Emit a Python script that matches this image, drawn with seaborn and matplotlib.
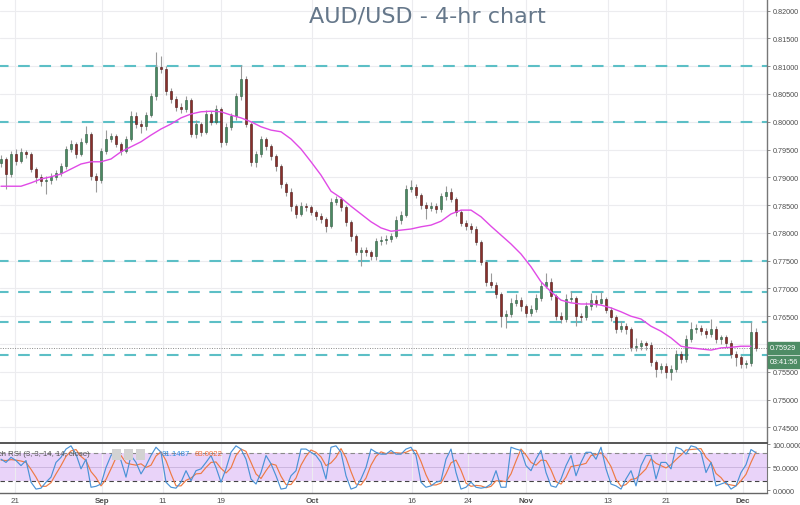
import numpy as np
import pandas as pd
import matplotlib
matplotlib.use('Agg')
import matplotlib.pyplot as plt
import matplotlib.transforms as mtransforms
from matplotlib.patches import Rectangle
import seaborn as sns

# --- data (one candle ~ half a trading day) ---
first_open = 0.7925
closes = [
    .7933, .7906, .7942, .7929, .7946, .7942, .7915, .7901, .7893, .7895,
    .7901, .7908, .7920, .7951, .7960, .7942, .7964, .7978, .7902, .7895,
    .7947, .7969, .7974, .7960, .7947, .7969, .8010, .7996, .7992, .8012,
    .8046, .8099, .8095, .8055, .8041, .8027, .8023, .8039, .7978, .7996,
    .7982, .8014, .8000, .8023, .7964, .7991, .8010, .8046, .8077, .7996,
    .7928, .7942, .7969, .7956, .7938, .7920, .7888, .7874, .7848, .7834,
    .7848, .7847, .7838, .7830, .7825, .7812, .7856, .7861, .7847, .7820,
    .7794, .7766, .7769, .7766, .7758, .7785, .7787, .7789, .7794, .7823,
    .7832, .7879, .7883, .7868, .7850, .7845, .7848, .7843, .7866, .7874,
    .7861, .7838, .7818, .7812, .7807, .7784, .7748, .7712, .7706, .7690,
    .7650, .7654, .7674, .7679, .7668, .7656, .7663, .7683, .7704, .7712,
    .7686, .7650, .7645, .7681, .7683, .7650, .7649, .7668, .7679, .7674,
    .7681, .7661, .7649, .7627, .7632, .7627, .7595, .7596, .7601, .7598,
    .7568, .7555, .7560, .7550, .7555, .7582, .7573, .7609, .7627, .7629,
    .7623, .7618, .7627, .7609, .7612, .7602, .7582, .7577, .7564, .7566,
    .7622, .7593]
highs = [
    .7940, .7937, .7948, .7951, .7952, .7950, .7945, .7919, .7906, .7903,
    .7908, .7914, .7926, .7957, .7968, .7964, .7970, .7992, .7981, .7908,
    .7952, .7985, .7980, .7978, .7964, .7975, .8020, .8018, .8003, .8018,
    .8052, .8126, .8118, .8100, .8060, .8046, .8034, .8046, .8042, .8003,
    .8000, .8022, .8019, .8030, .8027, .7998, .8016, .8052, .8102, .8082,
    .8000, .7948, .7975, .7972, .7960, .7942, .7924, .7892, .7880, .7852,
    .7855, .7853, .7851, .7842, .7835, .7828, .7862, .7867, .7865, .7851,
    .7824, .7798, .7775, .7774, .7770, .7790, .7795, .7796, .7800, .7830,
    .7840, .7886, .7895, .7888, .7872, .7856, .7855, .7853, .7872, .7885,
    .7880, .7865, .7842, .7824, .7818, .7812, .7788, .7752, .7728, .7712,
    .7694, .7662, .7682, .7690, .7684, .7672, .7670, .7690, .7712, .7728,
    .7718, .7690, .7657, .7690, .7695, .7687, .7656, .7675, .7692, .7688,
    .7694, .7685, .7666, .7653, .7641, .7637, .7630, .7610, .7608, .7606,
    .7603, .7572, .7566, .7565, .7562, .7590, .7588, .7616, .7640, .7636,
    .7634, .7628, .7645, .7632, .7616, .7617, .7607, .7588, .7581, .7572,
    .7640, .7628]
lows = [
    .7918, .7879, .7900, .7922, .7925, .7935, .7909, .7890, .7885, .7870,
    .7888, .7896, .7903, .7915, .7946, .7935, .7938, .7960, .7896, .7874,
    .7890, .7942, .7963, .7954, .7940, .7943, .7965, .7989, .7980, .7986,
    .8008, .8040, .8088, .8048, .8034, .8020, .8015, .8018, .7972, .7970,
    .7975, .7978, .7994, .7996, .7955, .7958, .7985, .8004, .8040, .7990,
    .7921, .7918, .7937, .7950, .7931, .7912, .7880, .7866, .7840, .7827,
    .7830, .7840, .7832, .7823, .7818, .7802, .7808, .7850, .7840, .7812,
    .7786, .7760, .7740, .7758, .7752, .7752, .7779, .7780, .7784, .7790,
    .7816, .7828, .7874, .7862, .7843, .7825, .7840, .7836, .7838, .7860,
    .7855, .7831, .7812, .7805, .7800, .7778, .7742, .7704, .7700, .7683,
    .7630, .7628, .7648, .7668, .7660, .7648, .7650, .7658, .7678, .7700,
    .7680, .7643, .7638, .7640, .7675, .7632, .7640, .7644, .7662, .7667,
    .7672, .7655, .7642, .7620, .7622, .7618, .7588, .7588, .7590, .7590,
    .7560, .7540, .7548, .7538, .7535, .7550, .7566, .7568, .7603, .7620,
    .7616, .7610, .7612, .7602, .7600, .7594, .7574, .7560, .7556, .7556,
    .7560, .7588]

# moving average, read every second candle
ma_vals = [
    .7884, .7884, .7884, .7890, .7897, .7901, .7906, .7915, .7924, .7928,
    .7928, .7933, .7946, .7955, .7964, .7976, .7987, .7996, .8007, .8014,
    .8018, .8019, .8018, .8012, .8007, .8000, .7991, .7985, .7982, .7969,
    .7951, .7928, .7904, .7875, .7863, .7848, .7834, .7820, .7809, .7803,
    .7805, .7807, .7811, .7814, .7821, .7834, .7841, .7841, .7829, .7812,
    .7796, .7780, .7762, .7739, .7712, .7694, .7679, .7674, .7672, .7672,
    .7670, .7665, .7658, .7650, .7645, .7632, .7623, .7611, .7596, .7593,
    .7591, .7589, .7593, .7594, .7596, .7596]

stoch_k = [
    67, 60, 71, 64, 53, 64, 17, 2, 4, 17, 28, 60, 71, 89, 96, 78,
    46, 67, 6, 8, 13, 49, 75, 86, 64, 28, 75, 60, 35, 53, 75, 93,
    82, 17, 6, 4, 17, 42, 20, 42, 46, 60, 75, 49, 17, 46, 82, 96,
    89, 67, 24, 13, 38, 75, 57, 31, 2, 4, 31, 42, 89, 89, 82, 75,
    60, 24, 93, 96, 82, 31, 2, 6, 24, 49, 89, 82, 78, 78, 86, 78,
    78, 89, 93, 75, 17, 6, 9, 17, 20, 67, 89, 38, 2, 6, 17, 6,
    4, 6, 13, 42, 6, 6, 93, 89, 86, 53, 42, 67, 86, 38, 9, 6,
    24, 53, 75, 31, 60, 82, 82, 67, 93, 46, 13, 9, 2, 24, 42, 9,
    53, 75, 75, 24, 60, 60, 46, 93, 89, 78, 96, 93, 82, 38, 60, 9,
    13, 17, 2, 9, 38, 55, 88, 81]
stoch_d = [
    65, 64, 66, 65, 63, 60, 45, 28, 8, 8, 16, 35, 53, 73, 85, 88,
    73, 64, 40, 27, 9, 23, 46, 70, 75, 59, 56, 54, 57, 49, 54, 74,
    83, 64, 35, 9, 9, 21, 26, 35, 36, 49, 60, 61, 47, 37, 48, 75,
    89, 84, 60, 35, 25, 42, 57, 54, 30, 12, 12, 26, 54, 73, 87, 82,
    72, 53, 59, 71, 90, 70, 40, 13, 11, 26, 54, 73, 83, 79, 81, 81,
    80, 82, 87, 86, 62, 33, 11, 11, 15, 35, 59, 65, 43, 15, 8, 10,
    9, 5, 8, 20, 20, 18, 35, 63, 89, 76, 60, 54, 65, 64, 44, 18,
    13, 28, 51, 53, 55, 58, 75, 77, 81, 69, 51, 23, 8, 12, 23, 25,
    35, 46, 68, 58, 53, 48, 55, 66, 76, 87, 88, 89, 90, 71, 60, 36,
    27, 13, 11, 9, 20, 34, 60, 83]

levels = [0.8100, 0.8000, 0.7750, 0.7694, 0.7640, 0.7580]
last_price = 0.75929
last_price_txt = '0.75929'
countdown_txt = '03:41:56'
stoch_k_txt = '81.1487'
stoch_d_txt = '83.0022'

tick_pos = [2.8, 20.2, 32.4, 44, 62.2, 82.2, 93.4, 105, 121.4, 133, 148.4]
tick_labels = ['21', 'Sep', '11', '19', 'Oct', '16', '24', 'Nov', '13', '21', 'Dec']
month_labels = {'Sep', 'Oct', 'Nov', 'Dec'}

# --- frames ---
n = len(closes)
df = pd.DataFrame({'bar': np.arange(n), 'close': closes, 'high': highs, 'low': lows})
df['open'] = [first_open] + closes[:-1]
df['up'] = df['close'] >= df['open']
ma_df = pd.DataFrame({'bar': np.arange(0, n, 2)[:len(ma_vals)], 'ma': ma_vals})
st_df = pd.DataFrame({'bar': np.arange(n), 'k': stoch_k, 'd': stoch_d})

sns.set_style('white')
plt.rcParams['font.family'] = ['Liberation Sans', 'DejaVu Sans']

W, H = 800, 506
fig = plt.figure(figsize=(W / 100, H / 100), dpi=100)
ax = fig.add_axes([0, 1 - 443 / H, 767 / W, 443 / H])
ax2 = fig.add_axes([0, 12 / H, 767 / W, 50 / H])

xlim = (-0.2, 153.2)
grid_c = '#ececef'
axis_c = '#777777'
txt_c = '#4d4d4d'
lab_fs = 5.2

# --- main pane ---
ax.vlines(df['bar'], df['low'], df['high'], color='#9a9a9a', lw=0.8, zorder=3)
for is_up, fc, ec in [(True, '#4b8a62', '#2f5a40'), (False, '#8b2f2b', '#4a1715')]:
    sub = df[df['up'] == is_up]
    hgt = (sub['close'] - sub['open']).to_numpy()
    hgt = np.where(np.abs(hgt) < 0.00006, np.where(hgt >= 0, 0.00006, -0.00006), hgt)
    ax.bar(sub['bar'], hgt, bottom=sub['open'], width=0.55, color=fc,
           edgecolor=ec, linewidth=0.4, zorder=4)

sns.lineplot(data=ma_df, x='bar', y='ma', ax=ax, color='#e04ae6', lw=1.0, zorder=5)

for lv in levels:
    ax.axhline(lv, color='#5cbfc6', lw=1.5, ls=(1.5, (5.6, 4.6)), zorder=2)
ax.axhline(last_price, color='#8a8a8a', lw=0.7, ls=(0, (1, 1.5)), zorder=2)

yt = np.arange(0.745, 0.8201, 0.005)
ax.set_xlim(*xlim)
ax.set_ylim(0.74236, 0.8221)
ax.set_yticks(yt)
# the 0.76000 label sits under the last-price box
ax.set_yticklabels(['' if abs(v - 0.76) < 1e-6 else f'{v:.5f}' for v in yt])
ax.set_xticks(tick_pos)
ax.yaxis.tick_right()
ax.tick_params(axis='y', labelsize=lab_fs, colors=axis_c, labelcolor=txt_c,
               length=2.5, width=0.6, pad=1.5, direction='out')
ax.tick_params(axis='x', length=0, labelbottom=False)
ax.grid(True, color=grid_c, lw=0.8)
ax.set_axisbelow(True)
ax.set_xlabel('')
ax.set_ylabel('')
for s in ['top', 'left', 'bottom']:
    ax.spines[s].set_visible(False)
ax.spines['right'].set_color(axis_c)
ax.spines['right'].set_linewidth(1.0)

ax.text(0.5336, 0.987, 'AUD/USD - 4-hr chart', transform=fig.transFigure,
        ha='center', va='top', fontsize=16, color='#65778a',
        family=['DejaVu Sans'])

# price / countdown labels on the right axis
trans = mtransforms.blended_transform_factory(fig.transFigure, ax.transData)
ax.add_patch(Rectangle((767.5 / W, last_price - 0.0011), 32.5 / W, 0.0022,
                       transform=trans, color='#4e8c65', clip_on=False, zorder=10))
ax.add_patch(Rectangle((767.5 / W, last_price - 0.0036), 32.5 / W, 0.0022,
                       transform=trans, color='#4e8c65', clip_on=False, zorder=10))
ax.text(770 / W, last_price, last_price_txt, transform=trans, fontsize=lab_fs,
        color='white', va='center', ha='left', clip_on=False, zorder=11)
ax.text(770 / W, last_price - 0.0025, countdown_txt, transform=trans, fontsize=lab_fs,
        color='white', va='center', ha='left', clip_on=False, zorder=11)

# --- stoch RSI pane ---
ax2.axhspan(20, 80, color='#e9d3f9', zorder=0, lw=0)
ax2.axhline(80, color='#8a8a8a', lw=0.8, ls=(0, (4, 3)), zorder=1)
ax2.axhline(20, color='#444444', lw=0.8, ls=(0, (4, 3)), zorder=1)
ax2.axhline(50, color='#c7b1da', lw=0.6, zorder=1)
sns.lineplot(data=st_df, x='bar', y='d', ax=ax2, color='#ee7a44', lw=0.85, zorder=3)
sns.lineplot(data=st_df, x='bar', y='k', ax=ax2, color='#4a92d6', lw=0.85, zorder=4)

ax2.set_xlim(*xlim)
ax2.set_ylim(-6.5, 102.2)
ax2.set_yticks([0, 50, 100])
ax2.set_yticklabels(['0.0000', '50.0000', '100.0000'])
ax2.yaxis.tick_right()
ax2.tick_params(axis='y', labelsize=lab_fs, colors=axis_c, labelcolor=txt_c,
                length=2.5, width=0.6, pad=1.5)
ax2.set_xticks(tick_pos)
ax2.set_xticklabels(tick_labels)
ax2.tick_params(axis='x', labelsize=5.8, labelcolor=txt_c, length=0, pad=3)
for lab in ax2.get_xticklabels():
    if lab.get_text() in month_labels:
        lab.set_fontweight('bold')
ax2.grid(True, axis='x', color=grid_c, lw=0.8)
ax2.set_axisbelow(True)
ax2.set_xlabel('')
ax2.set_ylabel('')
ax2.spines['left'].set_visible(False)
ax2.spines['top'].set_color('#555555')
ax2.spines['top'].set_linewidth(1.4)
ax2.spines['bottom'].set_color('#666666')
ax2.spines['bottom'].set_linewidth(1.0)
ax2.spines['right'].set_color(axis_c)

# legend line of the indicator
ax2.text(-14 / 767, 0.78, 'Stoch RSI (3, 3, 14, 14, close)', transform=ax2.transAxes,
         fontsize=5.6, color='#555555', va='center', ha='left', zorder=6)
for k in range(3):
    ax2.add_patch(Rectangle(((112 + 12 * k) / 767, 0.66), 9 / 767, 0.22,
                            transform=ax2.transAxes, color='#d2d2d2', zorder=5, lw=0))
ax2.text(162 / 767, 0.78, stoch_k_txt, transform=ax2.transAxes, fontsize=5.6,
         color='#2f8de0', va='center', ha='left', zorder=6)
ax2.text(195 / 767, 0.78, stoch_d_txt, transform=ax2.transAxes, fontsize=5.6,
         color='#f0703a', va='center', ha='left', zorder=6)

fig.savefig('out.png', dpi=100, facecolor='white')
